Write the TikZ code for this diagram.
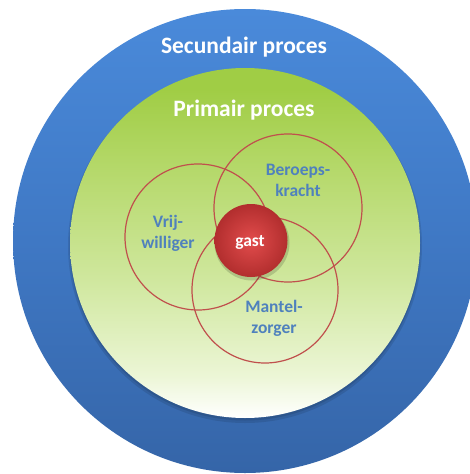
\documentclass[tikz,border=0pt]{standalone}
\usepackage{fontspec}
\setmainfont{Carlito}
\usetikzlibrary{shadings}
\definecolor{bluetop}{HTML}{4A8ADA}
\definecolor{bluemid}{HTML}{3F78C4}
\definecolor{bluebot}{HTML}{3565A8}
\definecolor{labelblue}{HTML}{4F81BD}
\definecolor{ringred}{HTML}{C0504D}
\definecolor{gtop}{HTML}{A0CD45}
\definecolor{gupper}{HTML}{B6D96C}
\definecolor{gmid}{HTML}{CFE79D}
\definecolor{glow}{HTML}{ECF6D6}
\definecolor{ballin}{HTML}{E24C4C}
\definecolor{ballout}{HTML}{B22E2E}
\pgfdeclareverticalshading{greenfade}{100bp}{color(0bp)=(white); color(25bp)=(white); color(31bp)=(glow); color(45bp)=(gmid); color(60bp)=(gupper); color(72bp)=(gtop); color(100bp)=(gtop)}
\pgfdeclareverticalshading{bluefade}{100bp}{color(0bp)=(bluebot); color(25bp)=(bluebot); color(50bp)=(bluemid); color(75bp)=(bluetop); color(100bp)=(bluetop)}
\tikzset{
  title/.style={font=\fontsize{23.5}{28}\selectfont\bfseries, text=white},
  lbl/.style={font=\fontsize{17.5}{21}\selectfont\bfseries, text=labelblue, align=center},
  ring/.style={draw=ringred, line width=1.2pt},
}
\begin{document}
\begin{tikzpicture}[x=1pt,y=-1pt]
\useasboundingbox (0,0) rectangle (470,474);
\fill[white] (0,0) rectangle (470,474);
% outer blue disc
\shade[shading=bluefade] (245,241) circle (232);
% soft shadow of green disc
\fill[black, opacity=0.10] (245,246) circle (177);
\fill[black, opacity=0.10] (245,245) circle (175.5);
% green disc
\shade[shading=greenfade] (245,243) circle (175);
% overlapping rings
\draw[ring] (198,237) circle (73);
\draw[ring] (288,208) circle (74);
\draw[ring] (265,290) circle (73);
% gast sphere
\fill[black, opacity=0.15] (252,243) circle (37.5);
\shade[inner color=ballin, outer color=ballout] (251,240.5) circle (36.5);
% texts
\node[title] (sec) at (244,47) {Secundair proces};
\node[title] (prim) at (244,110) {Primair proces};
\node[lbl] (ber) at (298,180) {Beroeps-\\kracht};
\node[lbl] (vrij) at (168,233) {Vrij-\\williger};
\node[lbl] (man) at (274,318) {Mantel-\\zorger};
\node[font=\fontsize{17.5}{21}\selectfont\bfseries, text=white] (gast) at (250,242) {gast};
\end{tikzpicture}
\end{document}
